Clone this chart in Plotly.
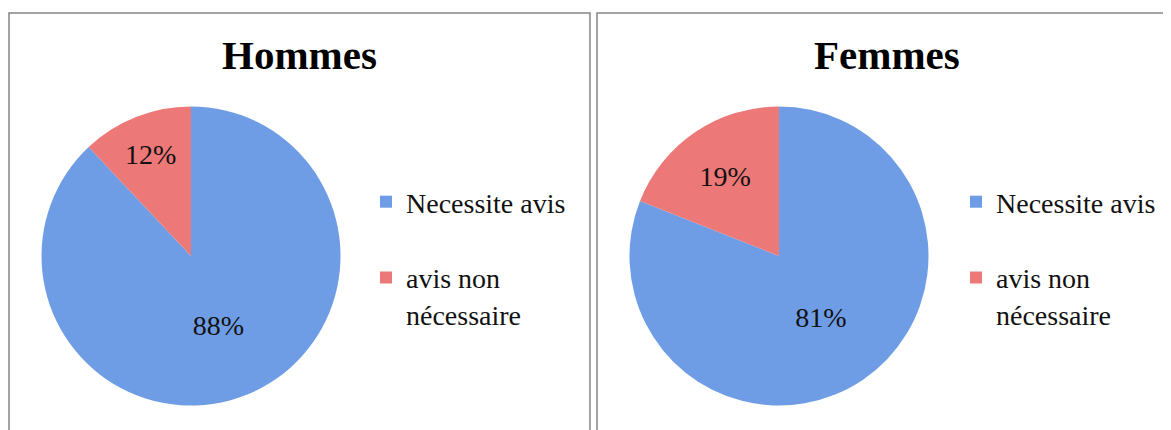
import plotly.graph_objects as go

# -------------------------
# DATA
# -------------------------
labels = ["Necessite avis<br> ", "avis non<br>nécessaire"]
hommes = [88, 12]
femmes = [81, 19]
titles = ["Hommes", "Femmes"]

W, H = 1171, 430
OFF = 8  # page body margin
SERIF = "Liberation Serif, Times New Roman, serif"
colors = ["#6e9de6", "#ec7878"]


def px_x(v):
    return (v - OFF) / W


def px_y(v):
    return 1 - (v - OFF) / H


fig = go.Figure()

# -------------------------
# PIES
# -------------------------
# second pie gets a zero-width suffix so its legend entries aren't merged
for vals, dom_x, leg, suffix in [
    (hommes, [41.5, 340.5], "legend", ""),
    (femmes, [629.5, 928.5], "legend2", "\u200b"),
]:
    fig.add_trace(go.Pie(
        labels=[lab + suffix for lab in labels],
        values=vals,
        sort=False,
        direction="clockwise",
        rotation=0,
        textinfo="percent",
        textposition="inside",
        insidetextorientation="horizontal",
        textfont=dict(family=SERIF, size=28, color="#111111"),
        marker=dict(colors=colors, line=dict(width=0)),
        domain=dict(x=[px_x(dom_x[0]), px_x(dom_x[1])],
                    y=[px_y(405.5), px_y(106.5)]),
        legend=leg,
        hoverinfo="label+percent",
    ))

# -------------------------
# PANEL FRAMES + TITLES
# -------------------------
for x0, x1 in [(9, 590), (597, 1185)]:
    fig.add_shape(type="rect", xref="paper", yref="paper",
                  x0=px_x(x0), x1=px_x(x1), y0=px_y(445), y1=px_y(13),
                  line=dict(color="#858585", width=1.5), layer="below")

for t, cx in zip(titles, [299, 887]):
    fig.add_annotation(text=f"<b>{t}</b>", x=px_x(cx), y=px_y(55),
                       xref="paper", yref="paper", showarrow=False,
                       xanchor="center", yanchor="middle",
                       font=dict(family=SERIF, size=41, color="#000000"))

legend_style = dict(
    xanchor="left", yanchor="top",
    font=dict(family=SERIF, size=28, color="#111111"),
    bgcolor="rgba(0,0,0,0)", borderwidth=0,
    valign="top", itemclick=False, itemdoubleclick=False,
)

fig.update_layout(
    width=W, height=H,
    margin=dict(l=0, r=0, t=0, b=0),
    paper_bgcolor="white",
    plot_bgcolor="white",
    showlegend=True,
    legend=dict(x=px_x(366), y=px_y(177), **legend_style),
    legend2=dict(x=px_x(956), y=px_y(177), **legend_style),
)

fig.write_html("out.html")
